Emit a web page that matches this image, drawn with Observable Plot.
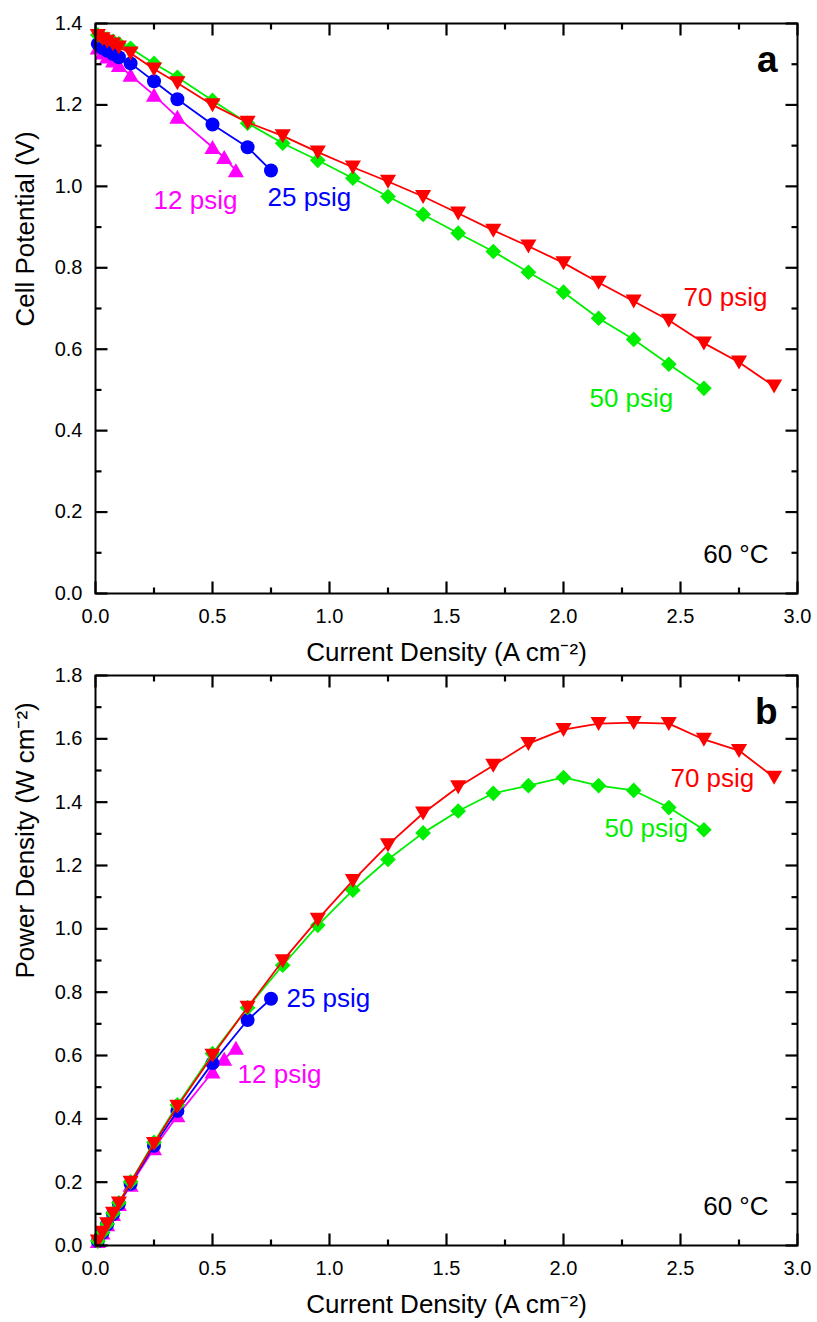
<!DOCTYPE html>
<html><head><meta charset="utf-8">
<script src="https://cdn.jsdelivr.net/npm/d3@7"></script>
<script src="https://cdn.jsdelivr.net/npm/@observablehq/plot@0.6"></script>
<style>
body{margin:0;background:#fff;}
#chart svg{display:block;}
</style>
</head><body><div id="chart"></div>
<script>
// ---- data ----
const j70 = [0.01,0.03,0.05,0.075,0.1,0.15,0.25,0.35,0.5,0.65,0.8,0.95,1.1,1.25,1.4,1.55,1.7,1.85,2.0,2.15,2.3,2.45,2.6,2.75,2.9];
const v70 = [1.370,1.362,1.356,1.349,1.342,1.327,1.288,1.254,1.200,1.157,1.124,1.084,1.047,1.012,0.975,0.934,0.892,0.853,0.812,0.764,0.718,0.671,0.615,0.568,0.509];
const p70 = [0.014,0.041,0.068,0.101,0.134,0.199,0.322,0.439,0.600,0.752,0.899,1.030,1.152,1.265,1.365,1.448,1.516,1.585,1.629,1.648,1.651,1.648,1.598,1.563,1.478];

const j50 = [0.01,0.03,0.05,0.075,0.1,0.15,0.25,0.35,0.5,0.65,0.8,0.95,1.1,1.25,1.4,1.55,1.7,1.85,2.0,2.15,2.3,2.45,2.6];
const v50 = [1.372,1.367,1.362,1.356,1.350,1.339,1.302,1.268,1.211,1.155,1.106,1.064,1.020,0.975,0.931,0.885,0.840,0.789,0.740,0.676,0.624,0.563,0.504];
const p50 = [0.014,0.041,0.068,0.102,0.135,0.201,0.326,0.444,0.606,0.751,0.885,1.011,1.122,1.219,1.303,1.372,1.428,1.452,1.478,1.452,1.437,1.383,1.313];

const j25 = [0.01,0.03,0.05,0.075,0.1,0.15,0.25,0.35,0.5,0.65,0.75];
const v25 = [1.350,1.340,1.333,1.325,1.317,1.302,1.258,1.214,1.152,1.096,1.039];
const p25 = [0.014,0.040,0.067,0.099,0.132,0.195,0.315,0.425,0.576,0.712,0.779];

const j12 = [0.01,0.03,0.05,0.075,0.1,0.15,0.25,0.35,0.5,0.55,0.6];
const v12 = [1.340,1.328,1.318,1.308,1.297,1.273,1.224,1.170,1.096,1.071,1.039];
const p12 = [0.013,0.040,0.066,0.098,0.130,0.191,0.306,0.410,0.548,0.589,0.623];

const seriesNames = ["12 psig","25 psig","50 psig","70 psig"];
const seriesColors = ["#ff00ff","#0000ff","#00ee00","#ff0000"];

const xMajor = [0,0.5,1,1.5,2,2.5,3];
const xMinor = [0.25,0.75,1.25,1.75,2.25,2.75];
const yMajorA = [0,0.2,0.4,0.6,0.8,1.0,1.2,1.4];
const yMinorA = [0.1,0.3,0.5,0.7,0.9,1.1,1.3];
const yMajorB = [0,0.2,0.4,0.6,0.8,1.0,1.2,1.4,1.6,1.8];
const yMinorB = [0.1,0.3,0.5,0.7,0.9,1.1,1.3,1.5,1.7];

// label annotations (text, x, y in data units)
const labelTextA = ["12 psig","25 psig","70 psig","50 psig"];
const labelXA = [0.248,0.735,2.513,2.111];
const labelYA = [0.965,0.972,0.727,0.479];
const labelColorA = ["#ff00ff","#0000ff","#ff0000","#00ee00"];

const labelTextB = ["70 psig","50 psig","25 psig","12 psig"];
const labelXB = [2.457,2.175,0.816,0.607];
const labelYB = [1.475,1.317,0.780,0.540];
const labelColorB = ["#ff0000","#00ee00","#0000ff","#ff00ff"];

// ---- symbols ----
function mk(kind){
  return {draw(ctx, size){
    const r = Math.sqrt(size/Math.PI);
    if (kind === "circle") { ctx.moveTo(r,0); ctx.arc(0,0,r,0,2*Math.PI); return; }
    if (kind === "up") { ctx.moveTo(0,-r*1.05); ctx.lineTo(r*1.15,r*0.95); ctx.lineTo(-r*1.15,r*0.95); ctx.closePath(); return; }
    if (kind === "down") { ctx.moveTo(0,r*1.05); ctx.lineTo(r*1.15,-r*0.95); ctx.lineTo(-r*1.15,-r*0.95); ctx.closePath(); return; }
    if (kind === "diamond") { const d=r*1.12; ctx.moveTo(0,-d); ctx.lineTo(d,0); ctx.lineTo(0,d); ctx.lineTo(-d,0); ctx.closePath(); return; }
  }};
}
const seriesSymbols = [mk("up"), mk("circle"), mk("diamond"), mk("down")];

function rows(j, vals){ return j.map((x,i)=>({x, y: vals[i]})); }
function labelRows(t, xs, ys, cs){ return t.map((s,i)=>({text:s, x:xs[i], y:ys[i], color:cs[i]})); }

const font = "'Liberation Sans', Arial, sans-serif";

function panel({data, yMax, yMajor, yMinor, yTitle, letter, labels, marginTop, marginBottom, height}){
  const W = 817, ML = 95, MR = 20, xMax = 3;
  const ph = height - marginTop - marginBottom;  // plot height in px
  const pw = W - ML - MR;                          // plot width in px
  const yLen = px => px / ph * yMax;               // tick length in y data units
  const xLen = px => px / pw * xMax;               // tick length in x data units
  const major = 12, minor = 6;
  // tick segments (inward, all four sides)
  const seg = [];
  xMajor.forEach(v => { seg.push({x1:v, x2:v, y1:0, y2:yLen(major)}, {x1:v, x2:v, y1:yMax, y2:yMax - yLen(major)}); });
  xMinor.forEach(v => { seg.push({x1:v, x2:v, y1:0, y2:yLen(minor)}, {x1:v, x2:v, y1:yMax, y2:yMax - yLen(minor)}); });
  yMajor.forEach(v => { seg.push({x1:0, x2:xLen(major), y1:v, y2:v}, {x1:xMax, x2:xMax - xLen(major), y1:v, y2:v}); });
  yMinor.forEach(v => { seg.push({x1:0, x2:xLen(minor), y1:v, y2:v}, {x1:xMax, x2:xMax - xLen(minor), y1:v, y2:v}); });

  const marks = [];
  data.forEach((d,i)=>{
    marks.push(Plot.line(d, {x:"x", y:"y", stroke: seriesColors[i], strokeWidth: 1.8}));
    marks.push(Plot.dot(d, {x:"x", y:"y", symbol: seriesSymbols[i], r: 7, fill: seriesColors[i], stroke: "none"}));
  });
  marks.push(
    Plot.link(seg, {x1:"x1", y1:"y1", x2:"x2", y2:"y2", stroke: "#000000", strokeWidth: 2.2, strokeLinecap: "butt"}),
    Plot.axisX({anchor:"bottom", ticks: xMajor, tickSize: 0, tickPadding: 15, tickFormat: d3.format(".1f"), label: null, fontSize: 20}),
    Plot.axisY({anchor:"left", ticks: yMajor, tickSize: 0, tickPadding: 13, tickFormat: d3.format(".1f"), label: null, fontSize: 20}),
    Plot.frame({stroke:"black", strokeWidth: 2}),
    Plot.text(["Current Density (A cm\u207B\u00B2)"], {frameAnchor:"bottom", dy: 59, fontSize: 26, lineAnchor:"middle"}),
    Plot.text([yTitle], {frameAnchor:"left", dx: -70, dy: 18, rotate: -90, fontSize: 26, lineAnchor:"middle"}),
    Plot.text([letter], {frameAnchor:"top-right", dx: -20, dy: 48, textAnchor:"end", lineAnchor:"bottom", fontSize: 37, fontWeight:"bold"}),
    Plot.text(["60 \u00B0C"], {frameAnchor:"bottom-right", dx: -29, dy: -31, textAnchor:"end", lineAnchor:"bottom", fontSize: 26}),
    Plot.text(labels, {x:"x", y:"y", text:"text", fill:"color", textAnchor:"start", lineAnchor:"middle", fontSize: 26})
  );
  return Plot.plot({
    width: W, height, marginTop, marginBottom, marginLeft: ML, marginRight: MR,
    style: {fontFamily: font, color: "black", background: "white", overflow: "visible"},
    x: {domain: [0, xMax]},
    y: {domain: [0, yMax]},
    marks
  });
}

const chart = document.getElementById("chart");
chart.append(panel({
  data: [rows(j12,v12), rows(j25,v25), rows(j50,v50), rows(j70,v70)],
  yMax: 1.4, yMajor: yMajorA, yMinor: yMinorA, yTitle: "Cell Potential (V)", letter: "a",
  labels: labelRows(labelTextA, labelXA, labelYA, labelColorA),
  marginTop: 23, marginBottom: 68, height: 661
}));
chart.append(panel({
  data: [rows(j12,p12), rows(j25,p25), rows(j50,p50), rows(j70,p70)],
  yMax: 1.8, yMajor: yMajorB, yMinor: yMinorB, yTitle: "Power Density (W cm\u207B\u00B2)", letter: "b",
  labels: labelRows(labelTextB, labelXB, labelYB, labelColorB),
  marginTop: 14, marginBottom: 77, height: 661
}));
</script>
</body></html>
